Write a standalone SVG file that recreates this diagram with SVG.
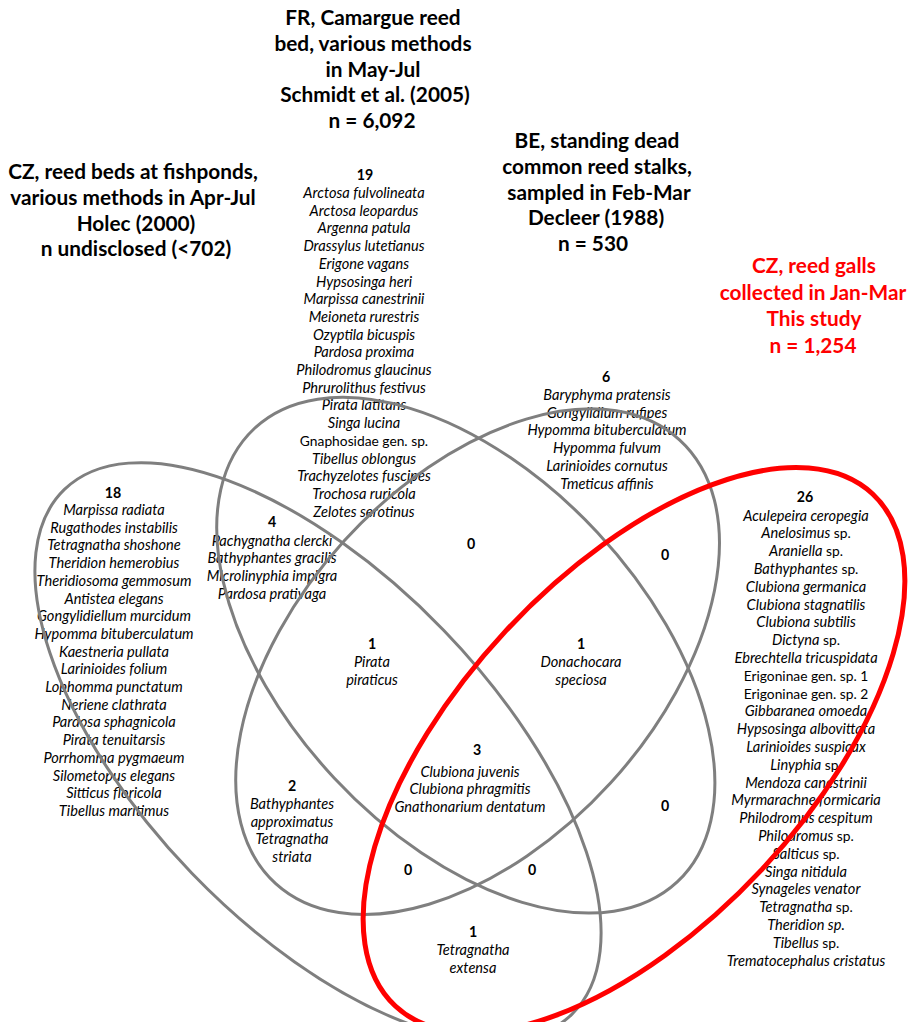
<svg xmlns="http://www.w3.org/2000/svg" width="914" height="1022" viewBox="0 0 914 1022">
<style>
.t{font-family:Lato,"Liberation Sans",sans-serif;font-weight:bold;font-size:20.8px;text-anchor:middle;fill:#000}
.tr{fill:#ff0000}
.n{font-family:Lato,"Liberation Sans",sans-serif;font-weight:bold;font-size:14.2px;text-anchor:middle;fill:#000}
.s{font-family:Lato,"Liberation Sans",sans-serif;font-style:italic;font-size:14.6px;text-anchor:middle;fill:#000}
.r{font-style:normal;font-size:13.8px}
.set{fill:none;stroke:#7f7f7f;stroke-width:3}
.setr{fill:none;stroke:#ff0000;stroke-width:5}
</style>
<rect width="914" height="1022" fill="#fff"/>
<g id="titles">
<g id="title-fr">
<text class="t" x="373" y="25">FR, Camargue reed</text>
<text class="t" x="373" y="50.8">bed, various methods</text>
<text class="t" x="373" y="76.6">in May-Jul</text>
<text class="t" x="375" y="102.4">Schmidt et al. (2005)</text>
<text class="t" x="372" y="128.2">n = 6,092</text>
</g>
<g id="title-cz-holec">
<text class="t" x="133" y="179">CZ, reed beds at fishponds,</text>
<text class="t" x="133" y="204.8">various methods in Apr-Jul</text>
<text class="t" x="136" y="230.6">Holec (2000)</text>
<text class="t" x="136" y="256.4">n undisclosed (&lt;702)</text>
</g>
<g id="title-be">
<text class="t" x="597" y="148">BE, standing dead</text>
<text class="t" x="597" y="173.8">common reed stalks,</text>
<text class="t" x="599" y="199.6">sampled in Feb-Mar</text>
<text class="t" x="596" y="225.4">Decleer (1988)</text>
<text class="t" x="593" y="251.2">n = 530</text>
</g>
<g id="title-cz-study">
<text class="t tr" x="814" y="273">CZ, reed galls</text>
<text class="t tr" x="813" y="299.5">collected in Jan-Mar</text>
<text class="t tr" x="814" y="326">This study</text>
<text class="t tr" x="813" y="352.5">n = 1,254</text>
</g>
</g>
<g id="regions">
<g id="r-fr-only">
<text class="n" x="365" y="180">19</text>
<text class="s" x="364" y="198">Arctosa fulvolineata</text>
<text class="s" x="364" y="215.7">Arctosa leopardus</text>
<text class="s" x="364" y="233.4">Argenna patula</text>
<text class="s" x="364" y="251.1">Drassylus lutetianus</text>
<text class="s" x="364" y="268.8">Erigone vagans</text>
<text class="s" x="364" y="286.5">Hypsosinga heri</text>
<text class="s" x="364" y="304.2">Marpissa canestrinii</text>
<text class="s" x="364" y="321.9">Meioneta rurestris</text>
<text class="s" x="364" y="339.6">Ozyptila bicuspis</text>
<text class="s" x="364" y="357.3">Pardosa proxima</text>
<text class="s" x="364" y="375">Philodromus glaucinus</text>
<text class="s" x="364" y="392.7">Phrurolithus festivus</text>
<text class="s" x="364" y="410.4">Pirata latitans</text>
<text class="s" x="364" y="428.1">Singa lucina</text>
<text class="s r" x="364" y="445.8">Gnaphosidae gen. sp.</text>
<text class="s" x="364" y="463.5">Tibellus oblongus</text>
<text class="s" x="364" y="481.2">Trachyzelotes fuscipes</text>
<text class="s" x="364" y="498.9">Trochosa ruricola</text>
<text class="s" x="364" y="516.6">Zelotes serotinus</text>
</g>
<g id="r-be-only">
<text class="n" x="606" y="382">6</text>
<text class="s" x="607" y="400">Baryphyma pratensis</text>
<text class="s" x="607" y="417.7">Gongylidium rufipes</text>
<text class="s" x="607" y="435.4">Hypomma bituberculatum</text>
<text class="s" x="607" y="453.1">Hypomma fulvum</text>
<text class="s" x="607" y="470.8">Larinioides cornutus</text>
<text class="s" x="607" y="488.5">Tmeticus affinis</text>
</g>
<g id="r-holec-only">
<text class="n" x="113" y="498">18</text>
<text class="s" x="114" y="515">Marpissa radiata</text>
<text class="s" x="114" y="532.7">Rugathodes instabilis</text>
<text class="s" x="114" y="550.4">Tetragnatha shoshone</text>
<text class="s" x="114" y="568.1">Theridion hemerobius</text>
<text class="s" x="114" y="585.8">Theridiosoma gemmosum</text>
<text class="s" x="114" y="603.5">Antistea elegans</text>
<text class="s" x="114" y="621.2">Gongylidiellum murcidum</text>
<text class="s" x="114" y="638.9">Hypomma bituberculatum</text>
<text class="s" x="114" y="656.6">Kaestneria pullata</text>
<text class="s" x="114" y="674.3">Larinioides folium</text>
<text class="s" x="114" y="692">Lophomma punctatum</text>
<text class="s" x="114" y="709.7">Neriene clathrata</text>
<text class="s" x="114" y="727.4">Pardosa sphagnicola</text>
<text class="s" x="114" y="745.1">Pirata tenuitarsis</text>
<text class="s" x="114" y="762.8">Porrhomma pygmaeum</text>
<text class="s" x="114" y="780.5">Silometopus elegans</text>
<text class="s" x="114" y="798.2">Sitticus floricola</text>
<text class="s" x="114" y="815.9">Tibellus maritimus</text>
</g>
<g id="r-study-only">
<text class="n" x="805" y="502">26</text>
<text class="s" x="806" y="520.5">Aculepeira ceropegia</text>
<text class="s" x="806" y="538.3">Anelosimus<tspan class="r"> sp.</tspan></text>
<text class="s" x="806" y="556.1">Araniella<tspan class="r"> sp.</tspan></text>
<text class="s" x="806" y="573.9">Bathyphantes<tspan class="r"> sp.</tspan></text>
<text class="s" x="806" y="591.7">Clubiona germanica</text>
<text class="s" x="806" y="609.5">Clubiona stagnatilis</text>
<text class="s" x="806" y="627.3">Clubiona subtilis</text>
<text class="s" x="806" y="645.1">Dictyna<tspan class="r"> sp.</tspan></text>
<text class="s" x="806" y="662.9">Ebrechtella tricuspidata</text>
<text class="s r" x="806" y="680.7">Erigoninae gen. sp. 1</text>
<text class="s r" x="806" y="698.5">Erigoninae gen. sp. 2</text>
<text class="s" x="806" y="716.3">Gibbaranea omoeda</text>
<text class="s" x="806" y="734.1">Hypsosinga albovittata</text>
<text class="s" x="806" y="751.9">Larinioides suspicax</text>
<text class="s" x="806" y="769.7">Linyphia<tspan class="r"> sp.</tspan></text>
<text class="s" x="806" y="787.5">Mendoza canestrinii</text>
<text class="s" x="806" y="805.3">Myrmarachne formicaria</text>
<text class="s" x="806" y="823.1">Philodromus cespitum</text>
<text class="s" x="806" y="840.9">Philodromus<tspan class="r"> sp.</tspan></text>
<text class="s" x="806" y="858.7">Salticus<tspan class="r"> sp.</tspan></text>
<text class="s" x="806" y="876.5">Singa nitidula</text>
<text class="s" x="806" y="894.3">Synageles venator</text>
<text class="s" x="806" y="912.1">Tetragnatha<tspan class="r"> sp.</tspan></text>
<text class="s" x="806" y="929.9">Theridion sp.</text>
<text class="s" x="806" y="947.7">Tibellus<tspan class="r"> sp.</tspan></text>
<text class="s" x="806" y="965.5">Trematocephalus cristatus</text>
</g>
<g id="r-holec-fr">
<text class="n" x="272" y="527">4</text>
<text class="s" x="272" y="545.5">Pachygnatha clercki</text>
<text class="s" x="272" y="563.2">Bathyphantes gracilis</text>
<text class="s" x="272" y="580.9">Microlinyphia impigra</text>
<text class="s" x="272" y="598.6">Pardosa prativaga</text>
</g>
<g id="r-fr-be"><text class="n" x="471" y="549">0</text></g>
<g id="r-be-study"><text class="n" x="665" y="560">0</text></g>
<g id="r-holec-fr-be">
<text class="n" x="372" y="649">1</text>
<text class="s" x="372" y="667">Pirata</text>
<text class="s" x="372" y="684.7">piraticus</text>
</g>
<g id="r-fr-be-study">
<text class="n" x="581" y="649">1</text>
<text class="s" x="581" y="667">Donachocara</text>
<text class="s" x="581" y="684.7">speciosa</text>
</g>
<g id="r-all">
<text class="n" x="477" y="755">3</text>
<text class="s" x="470" y="776.5">Clubiona juvenis</text>
<text class="s" x="470" y="794.2">Clubiona phragmitis</text>
<text class="s" x="470" y="811.9">Gnathonarium dentatum</text>
</g>
<g id="r-holec-be">
<text class="n" x="292" y="791">2</text>
<text class="s" x="292" y="809">Bathyphantes</text>
<text class="s" x="292" y="826.7">approximatus</text>
<text class="s" x="292" y="844.4">Tetragnatha</text>
<text class="s" x="292" y="862.1">striata</text>
</g>
<g id="r-fr-study"><text class="n" x="665" y="811">0</text></g>
<g id="r-holec-be-study"><text class="n" x="408" y="875">0</text></g>
<g id="r-holec-fr-study"><text class="n" x="532" y="875">0</text></g>
<g id="r-holec-study">
<text class="n" x="473" y="937">1</text>
<text class="s" x="473" y="955">Tetragnatha</text>
<text class="s" x="473" y="972.7">extensa</text>
</g>
</g>
<g id="sets">
<ellipse id="set-holec" class="set" cx="318" cy="752" rx="365" ry="175" transform="rotate(46 318 752)"/>
<ellipse id="set-fr" class="set" cx="465.8" cy="655.2" rx="310" ry="180" transform="rotate(47 465.8 655.2)"/>
<ellipse id="set-be" class="set" cx="477.6" cy="661.7" rx="300" ry="180" transform="rotate(-47.7 477.6 661.7)"/>
<ellipse id="set-study" class="setr" cx="634" cy="750" rx="350" ry="175" transform="rotate(-47 634 750)"/>
</g>
</svg>
